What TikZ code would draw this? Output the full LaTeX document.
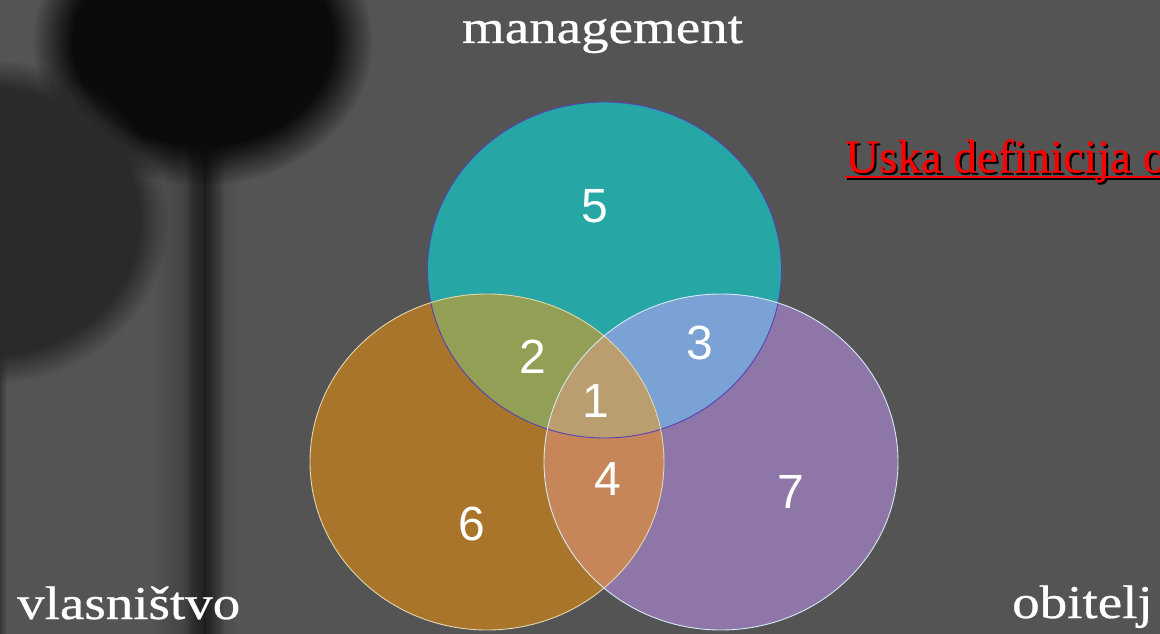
\documentclass[tikz,border=0pt]{standalone}
\usepackage{fontspec}
\setmainfont{Liberation Serif}
\newfontfamily\captionfont[FakeStretch=1.17,FakeBold=0.6]{Liberation Serif}
\newfontfamily\headingfont[FakeBold=0.5]{Liberation Serif}
\newfontfamily\digitfont{Liberation Sans}

\definecolor{bggray}{HTML}{545454}
\definecolor{blobdark}{HTML}{0B0B0B}
\definecolor{blobmid}{HTML}{2A2A2A}
\definecolor{stemdark}{HTML}{1E1E1E}
\definecolor{stemhalo}{HTML}{3A3A3A}
\definecolor{mgmtfill}{HTML}{26A7A6}
\definecolor{ownfill}{HTML}{A8752B}
\definecolor{famfill}{HTML}{8F76A8}
\definecolor{mofill}{HTML}{939F54}
\definecolor{mffill}{HTML}{7BA2D4}
\definecolor{offill}{HTML}{C7865A}
\definecolor{allfill}{HTML}{BA9E70}
\definecolor{mgmtline}{HTML}{5540B8}
\definecolor{ownline}{HTML}{E2D6AE}
\definecolor{famline}{HTML}{D4EAF4}

% soft-edged oval: colour, cx, cy, rx, ry, edge spread
\newcommand\softoval[6]{%
  \foreach \j in {1,...,14}{%
    \pgfmathsetmacro\op{1/(15-\j)}%
    \pgfmathsetmacro\rxx{#4+#6*(1-2*(\j-1)/13)}%
    \pgfmathsetmacro\ryy{#5+#6*(1-2*(\j-1)/13)}%
    \fill[#1, opacity=\op] (#2,#3) ellipse (\rxx pt and \ryy pt);
  }}
% soft-edged vertical band: colour, x centre, half width, y top, y bottom, edge spread
\newcommand\softband[6]{%
  \foreach \j in {1,...,14}{%
    \pgfmathsetmacro\op{1/(15-\j)}%
    \pgfmathsetmacro\hw{#3+#6*(1-2*(\j-1)/13)}%
    \fill[#1, opacity=\op] ({#2-\hw},#4) rectangle ({#2+\hw},#5);
  }}

\begin{document}
\begin{tikzpicture}[x=1pt, y=-1pt,
  caption/.style={font=\captionfont\fontsize{47}{50}\selectfont, text=white, inner sep=0pt},
  heading/.style={font=\headingfont\fontsize{47}{50}\selectfont, inner sep=0pt, anchor=base west},
  digit/.style={font=\digitfont\fontsize{48}{48}\selectfont, text=white, inner sep=0pt},
  ring/.style={line width=0.9pt}]

\useasboundingbox (0,0) rectangle (1160,634);
\clip (0,0) rectangle (1160,634);

% backdrop
\fill[bggray] (0,0) rectangle (1160,634);
\softband{stemhalo}{196}{18}{150}{640}{24}
\softband{stemdark}{205}{9}{140}{640}{10}
\softoval{blobdark}{203}{42}{150}{124}{19}
\softband{blobmid}{-10}{12}{340}{640}{5}
\softoval{blobmid}{-12}{222}{166}{148}{14}

% set circles
\coordinate (M) at (604.5,270);
\coordinate (W) at (487,462);
\coordinate (F) at (721,462);

\fill[mgmtfill] (M) ellipse (177pt and 168pt);
\fill[ownfill]  (W) ellipse (177pt and 168pt);
\fill[famfill]  (F) ellipse (177pt and 168pt);

\begin{scope}
  \clip (W) ellipse (177pt and 168pt);
  \fill[offill] (F) ellipse (177pt and 168pt);
\end{scope}
\begin{scope}
  \clip (M) ellipse (177pt and 168pt);
  \fill[mofill] (W) ellipse (177pt and 168pt);
  \fill[mffill] (F) ellipse (177pt and 168pt);
  \clip (W) ellipse (177pt and 168pt);
  \fill[allfill] (F) ellipse (177pt and 168pt);
\end{scope}

\draw[ring, mgmtline] (M) ellipse (177pt and 168pt);
\draw[ring, ownline]  (W) ellipse (177pt and 168pt);
\draw[ring, famline]  (F) ellipse (177pt and 168pt);

% region numbers
\node[digit] (n5) at (595,206) {5};
\node[digit] (n2) at (533,357) {2};
\node[digit] (n3) at (700,343) {3};
\node[digit] (n1) at (596,401) {1};
\node[digit] (n4) at (608,479) {4};
\node[digit] (n7) at (791,492) {7};
\node[digit] (n6) at (472,524) {6};

% circle captions
\node[caption, anchor=base] (mgmt) at (602.5,43) {management};
\node[caption, anchor=base west] (own) at (17,619) {vlasništvo};
\node[caption, anchor=base west] (fam) at (1012,618) {obitelj};

% underlined heading with drop shadow
\node[heading, text=black] (uskashadow) at (847,174.5) {Uska definicija o};
\draw[black, line width=2pt] ([yshift=-4.5pt]uskashadow.base west) -- ([yshift=-4.5pt]uskashadow.base east);
\node[heading, text=red] (uska) at (845,172.5) {Uska definicija o};
\draw[red, line width=2pt] ([yshift=-4.5pt]uska.base west) -- ([yshift=-4.5pt]uska.base east);

\end{tikzpicture}
\end{document}
